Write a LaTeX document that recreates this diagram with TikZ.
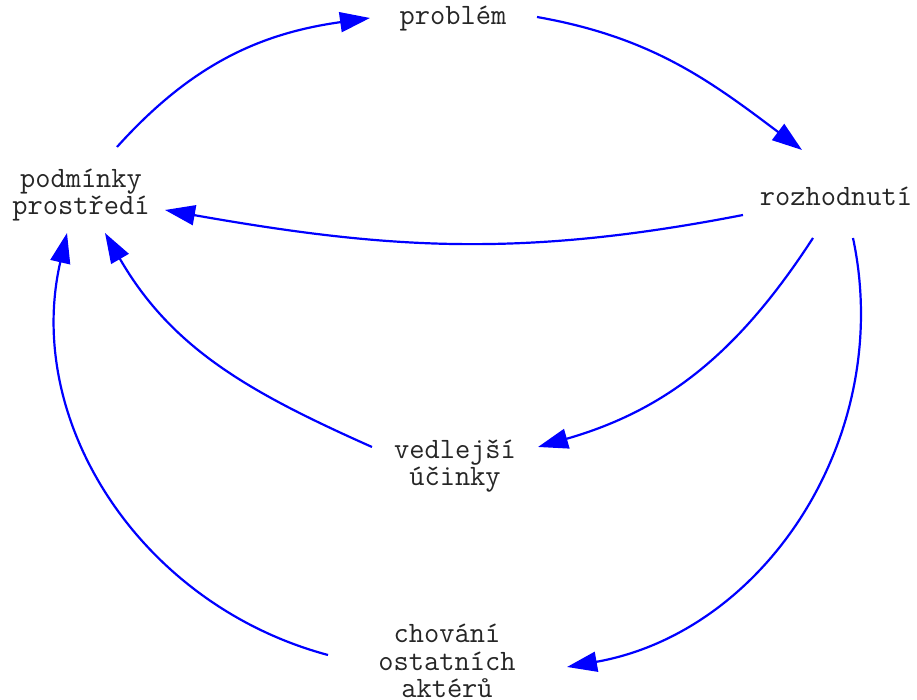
\documentclass[tikz,border=0pt]{standalone}
\usepackage{fontspec}
\usepackage{tikz}
\usetikzlibrary{arrows.meta}
\begin{document}
\begin{tikzpicture}[x=0.5pt,y=0.5pt,
        lbl/.style={align=center, inner sep=0pt, text=black!85,
                        font=\ttfamily\fontsize{14.8}{13.6}\selectfont},
        arr/.style={draw=blue, line width=1.1pt,
                        -{Triangle[length=15pt,width=10pt]}}]
    \useasboundingbox (0,0) rectangle (917,700);
    \node[lbl] (prob) at (453,681) {problém};
    \node[lbl] (podm) at (81,505) {podmínky\\prostředí};
    \node[lbl] (rozh) at (836,504) {rozhodnutí};
    \node[lbl] (vedl) at (455,234) {vedlejší\\účinky};
    \node[lbl] (chov) at (447,39) {chování\\ostatních\\aktérů};
    \draw[arr] ([shift={(36,48)}]podm.center) to[out=48,in=188]
            ([shift={(-83,1)}]prob.center);
    \draw[arr] ([shift={(84,2)}]prob.center) to[out=-10,in=143]
            ([shift={(-34,46)}]rozh.center);
    \draw[arr] ([shift={(-93,-19)}]rozh.center) to[out=191,in=350]
            ([shift={(84,-15)}]podm.center);
    \draw[arr] ([shift={(-23,-42)}]rozh.center) to[out=237,in=16]
            ([shift={(83,19)}]vedl.center);
    \draw[arr] ([shift={(17,-42)}]rozh.center) to[out=282,in=10]
            ([shift={(120,-6)}]chov.center);
    \draw[arr] ([shift={(-83,19)}]vedl.center) to[out=156,in=300]
            ([shift={(24,-38)}]podm.center);
    \draw[arr] ([shift={(-119,6)}]chov.center) to[out=165,in=257]
            ([shift={(-14,-38)}]podm.center);
    \end{tikzpicture}
\end{document}
